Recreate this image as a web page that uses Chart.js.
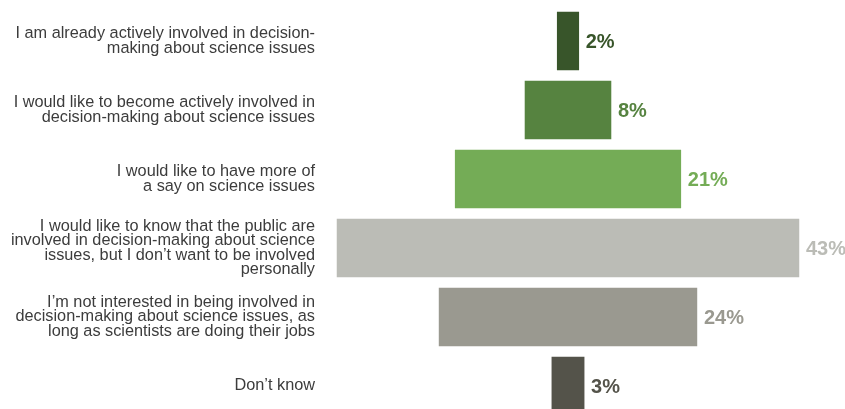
<!DOCTYPE html>
<html>
<head>
<meta charset="utf-8">
<script src="https://cdn.jsdelivr.net/npm/chart.js@4"></script>
<style>
  html, body { margin: 0; padding: 0; background: #fff; }
  #wrap { width: 845px; height: 409px; }
</style>
</head>
<body>
<div id="wrap"><canvas id="chart"></canvas></div>
<script>
const categories = [
  ['I am already actively involved in decision-', 'making about science issues'],
  ['I would like to become actively involved in', 'decision-making about science issues'],
  ['I would like to have more of', 'a say on science issues'],
  ['I would like to know that the public are', 'involved in decision-making about science', 'issues, but I don\u2019t want to be involved', 'personally'],
  ['I\u2019m not interested in being involved in', 'decision-making about science issues, as', 'long as scientists are doing their jobs'],
  ['Don\u2019t know']
]
const percents = [2, 8, 21, 43, 24, 3]
const barColors = ['#38552a', '#568340', '#74ac56', '#bbbcb6', '#9a9990', '#54534a']

// bars are centred on zero, so each one runs from -v/2 to v/2
const spans = percents.map((v) => [-v / 2, v / 2])

const valueLabels = {
  id: 'valueLabels',
  afterDatasetsDraw(chart) {
    const ctx = chart.ctx
    const meta = chart.getDatasetMeta(0)
    ctx.save()
    ctx.font = 'bold 20px "Liberation Sans", Arial, sans-serif'
    ctx.textAlign = 'left'
    ctx.textBaseline = 'middle'
    meta.data.forEach((bar, i) => {
      ctx.fillStyle = barColors[i]
      ctx.fillText(percents[i] + '%', bar.x + 7, bar.y + 1)
    })
    ctx.restore()
  }
}

new Chart(document.getElementById('chart').getContext('2d'), {
  type: 'bar',
  data: {
    labels: categories,
    datasets: [
      {
        data: spans,
        backgroundColor: barColors,
        borderWidth: 0,
        barThickness: 58,
        clip: false,
      },
    ],
  },
  options: {
    indexAxis: 'y',
    responsive: true,
    maintainAspectRatio: false,
    animation: false,
    layout: { padding: { top: 41, bottom: 23, left: 0, right: 0 } },
    plugins: {
      legend: { display: false },
      tooltip: { enabled: false },
    },
    scales: {
      x: {
        display: false,
        min: -23.09,
        max: 25.79,
      },
      y: {
        offset: false,
        grid: { display: false, drawTicks: false },
        border: { display: false },
        ticks: {
          padding: 5,
          color: '#3c3c3c',
          font: { family: '"Liberation Sans", Arial, sans-serif', size: 16.3, lineHeight: 0.86 },
          autoSkip: false,
        },
        afterFit(scale) {
          scale.width = 320
        },
      },
    },
  },
  plugins: [valueLabels],
})
</script>
</body>
</html>
